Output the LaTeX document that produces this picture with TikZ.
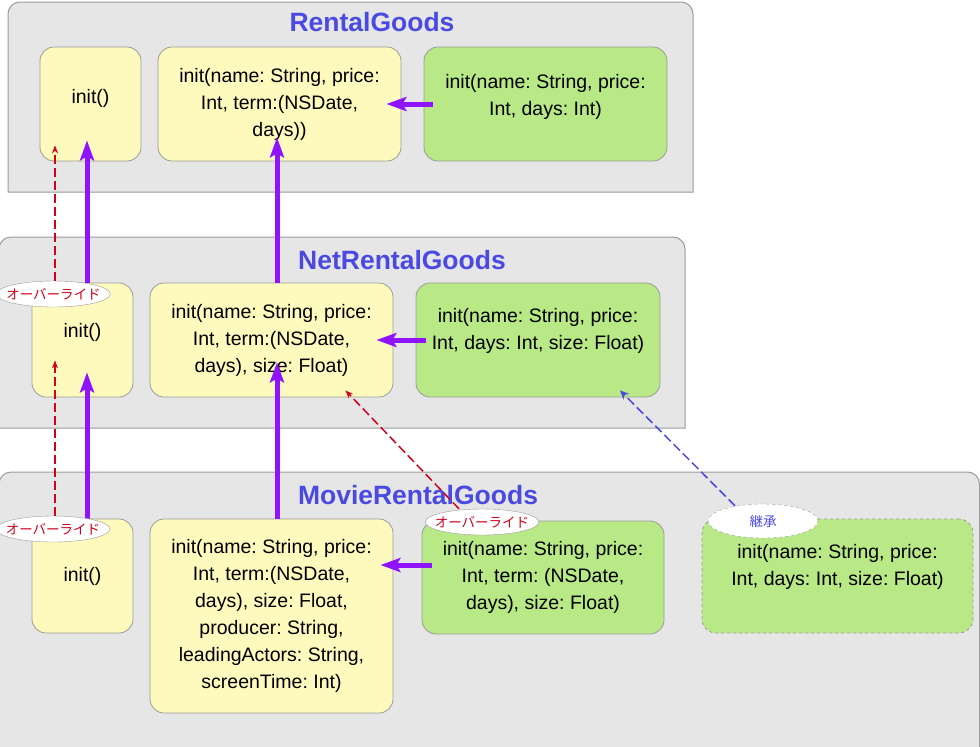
\documentclass[tikz,border=0pt]{standalone}
\usepackage{fontspec}
\setmainfont{Liberation Sans}
\newfontfamily\jpfont{Noto Sans CJK JP}
\usepackage{tikz}
\usetikzlibrary{arrows.meta,shapes.geometric,calc}
\frenchspacing

\definecolor{panelgray}{RGB}{230,230,230}
\definecolor{edgegray}{RGB}{155,155,155}
\definecolor{inityellow}{RGB}{254,249,189}
\definecolor{initgreen}{RGB}{184,233,134}
\definecolor{titleblue}{RGB}{74,74,226}
\definecolor{callpurple}{RGB}{144,19,254}
\definecolor{overred}{RGB}{208,2,27}
\definecolor{inheritblue}{RGB}{74,74,226}

\tikzset{
	panel/.style={fill=panelgray, draw=edgegray, line width=1pt},
	classtitle/.style={font=\fontsize{26.5}{30}\selectfont\bfseries, text=titleblue},
	initbox/.style={rectangle, rounded corners=14pt, draw=edgegray, line width=0.8pt, fill=inityellow, align=center, inner sep=0pt, font=\fontsize{19.5}{27}\selectfont},
	initboxgreen/.style={initbox, fill=initgreen},
	raised/.style={text depth=#1},
	raised/.default=23pt,
	callarrow/.style={draw=callpurple, line width=5pt, -{Stealth[length=20pt, width=14pt, inset=4pt]}},
	overarrow/.style={draw=overred, line width=1.5pt, dash pattern=on 9pt off 4pt, -{Stealth[length=8pt, width=6pt]}},
	inheritarrow/.style={draw=inheritblue, line width=1.5pt, dash pattern=on 9pt off 4pt, -{Stealth[open, length=9pt, width=8pt]}},
	tag/.style={ellipse, draw=edgegray, fill=white, inner xsep=-7pt, inner ysep=0pt, minimum width=107pt, minimum height=26pt, font=\jpfont\fontsize{13.5}{15}\selectfont},
}

\begin{document}
\begin{tikzpicture}[x=1pt, y=-1pt]
	\useasboundingbox (0,0) rectangle (980,747);

	% RentalGoods
	\draw[panel] (8,192) [rounded corners=12pt] -- (8,2) -- (693,2) [sharp corners] -- (693,192) -- cycle;
	\node[classtitle] (rtitle) at (372,22) {RentalGoods};
	\node[initbox, raised=15pt, minimum width=101pt, minimum height=114pt] (rinit) at (90.5,104) {init()};
	\node[initbox, minimum width=243pt, minimum height=114pt] (rterm) at (279.5,104) {init(name: String, price:\\Int, term:(NSDate,\\days))};
	\node[initboxgreen, raised=19pt, minimum width=243pt, minimum height=114pt] (rdays) at (545.5,104) {init(name: String, price:\\Int, days: Int)};

	% NetRentalGoods
	\draw[panel] (-1,428) [rounded corners=12pt] -- (-1,237) -- (685,237) [sharp corners] -- (685,428) -- cycle;
	\node[classtitle] (ntitle) at (402,260) {NetRentalGoods};
	\node[initbox, raised=19pt, minimum width=101pt, minimum height=114pt] (ninit) at (82.5,340) {init()};
	\node[initbox, minimum width=243pt, minimum height=114pt] (nterm) at (271.5,340) {init(name: String, price:\\Int, term:(NSDate,\\days), size: Float)};
	\node[initboxgreen, raised, minimum width=244pt, minimum height=114pt] (ndays) at (538,340) {init(name: String, price:\\Int, days: Int, size: Float)};

	% MovieRentalGoods
	\draw[panel] (-1,760) [rounded corners=12pt] -- (-1,472) -- (979.5,472) [sharp corners] -- (979.5,760) -- cycle;
	\node[classtitle] (mtitle) at (418,495) {MovieRentalGoods};
	\node[initbox, minimum width=101pt, minimum height=114pt] (minit) at (82.5,576) {init()};
	\node[initbox, minimum width=243pt, minimum height=194pt] (mterm) at (271.5,616) {init(name: String, price:\\Int, term:(NSDate,\\days), size: Float,\\producer: String,\\leadingActors: String,\\screenTime: Int)};
	\node[initboxgreen, minimum width=242pt, minimum height=113pt] (mdays) at (543,577.5) {init(name: String, price:\\Int, term: (NSDate,\\days), size: Float)};
	\node[initboxgreen, raised, dashed, minimum width=271pt, minimum height=114pt] (mnew) at (837.5,576) {init(name: String, price:\\Int, days: Int, size: Float)};

	% calls
	\draw[callarrow] ($(ninit.north)+(4.5,0)$) -- ($(rinit.south)+(-3.5,-21)$);
	\draw[callarrow] ($(nterm.north)+(5.5,0)$) -- ($(rterm.south)+(-2.5,-24)$);
	\draw[callarrow] ($(rdays.west)+(9,0)$) -- ($(rterm.east)+(-15,0)$);
	\draw[callarrow] ($(ndays.west)+(10,0)$) -- ($(nterm.east)+(-17,0)$);
	\draw[callarrow] ($(mdays.west)+(10,-12.5)$) -- ($(mterm.east)+(-13,-51)$);
	\draw[callarrow] ($(mterm.north)+(5.5,0)$) -- ($(nterm.south)+(5.5,-35)$);
	\draw[callarrow] ($(minit.north)+(4.5,0)$) -- ($(ninit.south)+(4.5,-25)$);

	% overrides and inheritance
	\node[tag, text=overred] (ov1) at (53.5,294) {オーバーライド};
	\node[tag, text=overred] (ov2) at (53,529) {オーバーライド};
	\node[tag, text=overred] (ov3) at (482,522) {オーバーライド};
	\node[tag, dashed, text=inheritblue, minimum width=110pt, minimum height=34pt] (ov4) at (763,521) {継承};
	\draw[overarrow] ($(ov1.north)+(1.5,0)$) -- ($(rinit.south)+(-35.5,-16)$);
	\draw[overarrow] ($(ov2.north)+(2,0)$) -- ($(ninit.south)+(-27.5,-37)$);
	\draw[overarrow] ($(ov3.north)+(-23,0)$) -- ($(nterm.south east)+(-48,-7)$);
	\draw[inheritarrow] ($(ov4.north)+(-28,2)$) -- ($(ndays.south)+(82,-7)$);
\end{tikzpicture}
\end{document}
